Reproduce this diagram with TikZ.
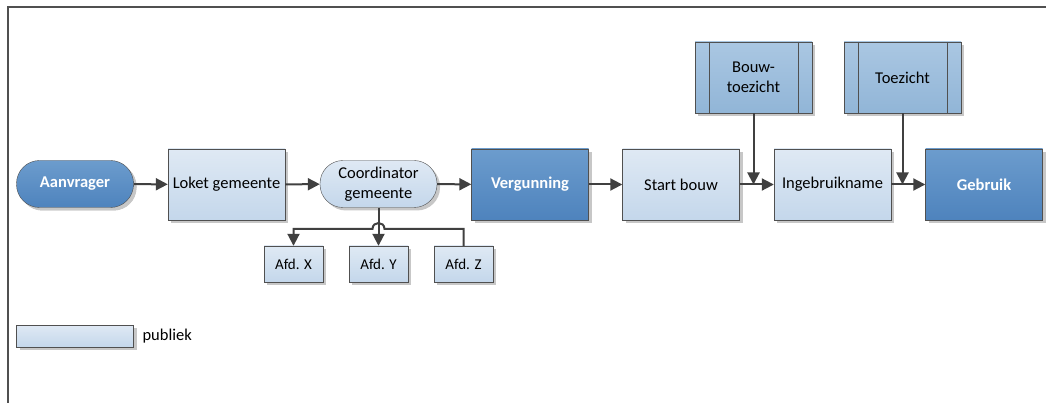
\documentclass[tikz,border=0pt]{standalone}
\usepackage{fontspec}
\setmainfont{Carlito}
\usetikzlibrary{arrows.meta,shadows}
\definecolor{lijn}{RGB}{80,80,80}
\definecolor{pijl}{RGB}{64,64,64}
\definecolor{lichtboven}{RGB}{223,233,244}
\definecolor{lichtonder}{RGB}{196,215,235}
\definecolor{middenboven}{RGB}{170,199,226}
\definecolor{middenonder}{RGB}{145,181,215}
\definecolor{donkerboven}{RGB}{108,156,205}
\definecolor{donkeronder}{RGB}{78,131,189}
\tikzset{
  schaduw/.style={drop shadow={shadow xshift=3pt,shadow yshift=-3pt,fill=black!22,opacity=1}},
  stap/.style={rectangle, draw=lijn, minimum width=117pt, minimum height=71pt,
    top color=lichtboven, bottom color=lichtonder, schaduw,
    font=\fontsize{16.5}{19.5}\selectfont, align=center, inner sep=1pt},
  hoofdstap/.style={stap, top color=donkerboven, bottom color=donkeronder,
    text=white, font=\fontsize{16.5}{19.5}\selectfont\bfseries},
  rond/.style={stap, rounded corners=23pt, minimum height=47pt},
  deel/.style={stap, minimum width=59pt, minimum height=36pt, font=\fontsize{15}{18}\selectfont},
  sub/.style={stap, top color=middenboven, bottom color=middenonder},
  verbind/.style={draw=pijl, line width=2pt, -{Triangle[length=12pt,width=12pt]}}
}
\begin{document}
\begin{tikzpicture}[x=1pt,y=-1pt]
  \useasboundingbox (0,0) rectangle (1046,403);
  \draw[lijn, line width=1.5pt] (8,403) -- (8,7) -- (1046,7);

  \node[rond, hoofdstap, rounded corners=23pt, minimum height=47pt] (aanvrager) at (75,184) {Aanvrager};
  \node[stap] (loket) at (226.5,184.5) {Loket gemeente};
  \node[rond] (coord) at (378.5,184) {Coordinator\\gemeente};
  \node[hoofdstap] (vergunning) at (530,184.5) {Vergunning};
  \node[stap] (start) at (681,184.5) {Start bouw};
  \node[stap] (inge) at (832.5,184.5) {Ingebruikname};
  \node[hoofdstap] (gebruik) at (984,184.5) {Gebruik};

  \node[sub] (bouwtz) at (753.5,77.5) {Bouw-\\toezicht};
  \node[sub] (toez) at (902.5,77.5) {Toezicht};
  \foreach \n in {bouwtz,toez}{
    \draw[lijn] ([xshift=14pt]\n.north west) -- ([xshift=14pt]\n.south west);
    \draw[lijn] ([xshift=-14pt]\n.north east) -- ([xshift=-14pt]\n.south east);
  }

  \node[deel] (afdx) at (293.5,264) {Afd. X};
  \node[deel] (afdy) at (378.5,264) {Afd. Y};
  \node[deel] (afdz) at (463.5,264) {Afd. Z};

  \draw[verbind] (aanvrager) -- (loket);
  \draw[verbind] (loket) -- (coord);
  \draw[verbind] (coord) -- (vergunning);
  \draw[verbind] (vergunning) -- (start);
  \draw[verbind] (start) -- (inge);
  \draw[verbind] (inge) -- (gebruik);
  \draw[verbind] (bouwtz.south) -- (bouwtz.south |- start.east);
  \draw[verbind] (toez.south) -- (toez.south |- inge.east);

  \draw[verbind] (coord.south) -- (afdy.north);
  \draw[verbind] (afdz.north) -- (463.5,229) -- (384.5,229)
    .. controls (384.5,221) and (372.5,221) .. (372.5,229) -- (293.5,229) -- (afdx.north);

  \node[stap, minimum height=22pt] (legenda) at (75,336) {};
  \node[anchor=west, font=\fontsize{16.5}{19.5}\selectfont] (publiek) at (139,336) {publiek};
\end{tikzpicture}
\end{document}
